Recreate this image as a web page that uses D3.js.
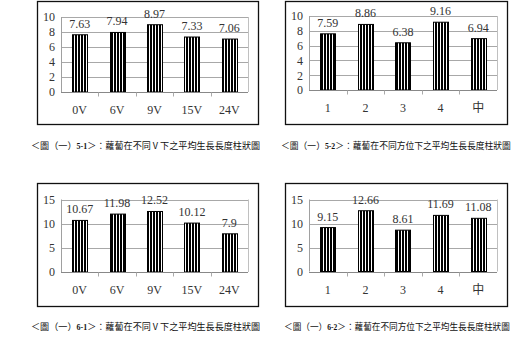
<!DOCTYPE html>
<html>
<head>
<meta charset="utf-8">
<script src="https://cdn.jsdelivr.net/npm/d3@7"></script>
<style>
  html, body { margin: 0; padding: 0; background: #fff; }
  svg { display: block; }
</style>
</head>
<body>
<svg id="fig" width="513" height="337"></svg>
<script>
// Category labels
const voltageCats = ["0V", "6V", "9V", "15V", "24V"];
const positionCats = ["1", "2", "3", "4", "中"];

// Average growth length per group
const growth5_1 = [7.63, 7.94, 8.97, 7.33, 7.06];
const growth5_2 = [7.59, 8.86, 6.38, 9.16, 6.94];
const growth6_1 = [10.67, 11.98, 12.52, 10.12, 7.9];
const growth6_2 = [9.15, 12.66, 8.61, 11.69, 11.08];

// Value-axis ticks
const ticksSet5 = [0, 2, 4, 6, 8, 10];
const ticksSet6 = [0, 5, 10, 15];

// Figure captions: [prefix, figure number, rest]
const caption5_1 = ["＜圖（一）", "5-1", "＞：蘿蔔在不同 V 下之平均生長長度柱狀圖"];
const caption5_2 = ["＜圖（一）", "5-2", "＞：蘿蔔在不同方位下之平均生長長度柱狀圖"];
const caption6_1 = ["＜圖（一）", "6-1", "＞：蘿蔔在不同 V 下之平均生長長度柱狀圖"];
const caption6_2 = ["＜圖（一）", "6-2", "＞：蘿蔔在不同方位下之平均生長長度柱狀圖"];

const svg = d3.select("#fig");
const serif = "'Liberation Serif', 'DejaVu Serif', serif";
const cjk = "'Noto Sans CJK TC', 'Noto Sans CJK SC', sans-serif";

// Vertical-stripe fill used by every bar
const defs = svg.append("defs");
const pat = defs.append("pattern")
  .attr("id", "stripes")
  .attr("patternUnits", "userSpaceOnUse")
  .attr("width", 3).attr("height", 10);
pat.append("rect").attr("width", 3).attr("height", 10).attr("fill", "#fff");
pat.append("rect").attr("width", 2).attr("height", 10).attr("fill", "#000");

function drawChart(cfg) {
  const g = svg.append("g");

  // outer chart frame
  g.append("rect")
    .attr("x", cfg.frame[0] + 0.5).attr("y", cfg.frame[1] + 0.5)
    .attr("width", cfg.frame[2] - cfg.frame[0]).attr("height", cfg.frame[3] - cfg.frame[1])
    .attr("fill", "#fff").attr("stroke", "#111").attr("stroke-width", 1.3);

  const x = d3.scaleBand().domain(cfg.cats)
    .range([cfg.plot[0], cfg.plot[2]]).paddingInner(0.6).paddingOuter(0.3);
  const y = d3.scaleLinear().domain([0, d3.max(cfg.ticks)])
    .range([cfg.plot[3], cfg.plot[1]]);

  // gridlines
  g.append("g").selectAll("line").data(cfg.ticks.filter(t => t > 0)).join("line")
    .attr("x1", cfg.plot[0]).attr("x2", cfg.plot[2])
    .attr("y1", d => Math.round(y(d)) + 0.5).attr("y2", d => Math.round(y(d)) + 0.5)
    .attr("stroke", "#a8a8a8").attr("stroke-width", 1);

  // plot-area sides
  g.append("line")
    .attr("x1", cfg.plot[0] + 0.5).attr("x2", cfg.plot[0] + 0.5)
    .attr("y1", y(d3.max(cfg.ticks))).attr("y2", y(0))
    .attr("stroke", "#a0a0a0");
  g.append("line")
    .attr("x1", cfg.plot[2] + 0.5).attr("x2", cfg.plot[2] + 0.5)
    .attr("y1", y(d3.max(cfg.ticks))).attr("y2", y(0))
    .attr("stroke", "#c0c0c0");

  // value axis labels
  const yAxis = d3.axisLeft(y).tickValues(cfg.ticks).tickSize(0).tickPadding(6);
  const ya = g.append("g").attr("transform", `translate(${cfg.plot[0]},0)`).call(yAxis);
  ya.select(".domain").remove();
  ya.selectAll("text")
    .attr("font-family", serif).attr("font-size", 12).attr("fill", "#333");

  // bars
  g.append("g").selectAll("rect").data(cfg.values).join("rect")
    .attr("x", (d, i) => Math.round(x(cfg.cats[i])) + 0.5)
    .attr("y", d => y(d))
    .attr("width", Math.round(x.bandwidth()))
    .attr("height", d => y(0) - y(d))
    .attr("fill", "url(#stripes)")
    .attr("stroke", "#000").attr("stroke-width", 1);

  // category axis along the baseline
  const step = (cfg.plot[2] - cfg.plot[0]) / cfg.cats.length;
  const xAxis = d3.axisBottom(x).tickSize(0).tickPadding(13);
  const xa = g.append("g").attr("transform", `translate(0,${Math.round(y(0)) + 0.5})`).call(xAxis);
  xa.select(".domain").attr("stroke", "#888").attr("d", `M${cfg.plot[0]},0H${cfg.plot[2]}`);
  xa.selectAll("text")
    .attr("font-family", (d) => /[\u4e00-\u9fff]/.test(d) ? cjk : serif)
    .attr("font-size", 12).attr("fill", "#333");
  xa.append("g").selectAll("line").data(d3.range(1, cfg.cats.length)).join("line")
    .attr("x1", i => Math.round(cfg.plot[0] + i * step) + 0.5)
    .attr("x2", i => Math.round(cfg.plot[0] + i * step) + 0.5)
    .attr("y1", 0).attr("y2", 4).attr("stroke", "#aaa");

  // value labels
  g.append("g").selectAll("text").data(cfg.values).join("text")
    .attr("x", (d, i) => x(cfg.cats[i]) + x.bandwidth() / 2)
    .attr("y", d => y(d) - 7)
    .attr("text-anchor", "middle")
    .attr("font-family", serif).attr("font-size", 12).attr("fill", "#333")
    .text(d => String(d));

  // caption, squeezed horizontally if it would run past its width
  const cap = svg.append("text")
    .attr("font-family", cjk).attr("font-size", 9.1).attr("fill", "#111");
  cap.append("tspan").text(cfg.caption[0]);
  cap.append("tspan").attr("font-family", serif).attr("font-size", 8).attr("font-weight", "bold").text(cfg.caption[1]);
  cap.append("tspan").text(cfg.caption[2]);
  const w = cap.node().getComputedTextLength();
  const sx = Math.min(1, cfg.capWidth / w);
  cap.attr("transform", `translate(${cfg.capPos[0]},${cfg.capPos[1]}) scale(${sx},1)`);
}

drawChart({ frame: [37, 1, 258, 124], plot: [61, 17, 248, 92], cats: voltageCats,
  values: growth5_1, ticks: ticksSet5, caption: caption5_1, capPos: [31, 149], capWidth: 232 });
drawChart({ frame: [285, 1, 507, 124], plot: [309, 16, 497, 90], cats: positionCats,
  values: growth5_2, ticks: ticksSet5, caption: caption5_2, capPos: [281, 149], capWidth: 230 });
drawChart({ frame: [37, 183, 258, 306], plot: [61, 199.5, 248, 272], cats: voltageCats,
  values: growth6_1, ticks: ticksSet6, caption: caption6_1, capPos: [31, 330], capWidth: 232 });
drawChart({ frame: [285, 183, 507, 306], plot: [309, 199.5, 497, 271.5], cats: positionCats,
  values: growth6_2, ticks: ticksSet6, caption: caption6_2, capPos: [284, 330], capWidth: 226 });
</script>
</body>
</html>
